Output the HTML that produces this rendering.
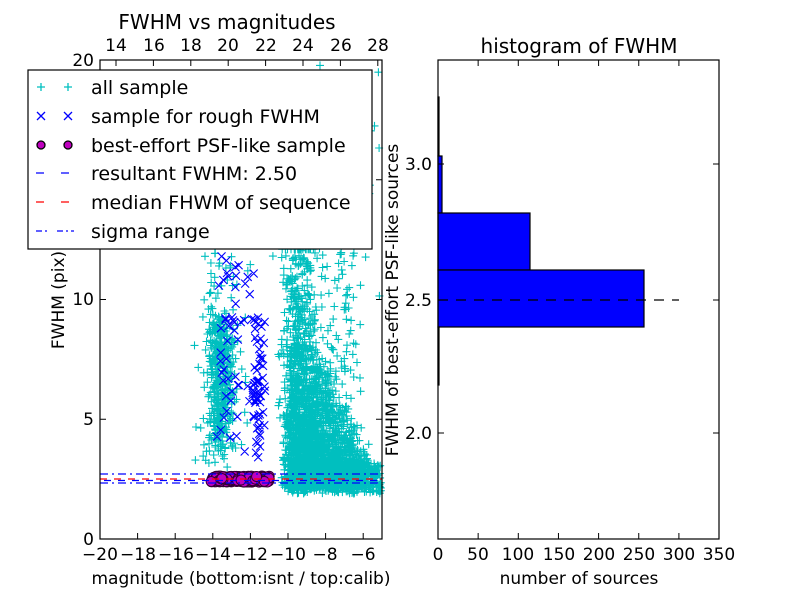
<!DOCTYPE html>
<html><head><meta charset="utf-8"><style>
body{margin:0;background:#fff;}
svg{display:block;font-family:"DejaVu Sans","Liberation Sans",sans-serif;}
</style></head><body>
<svg id="s" width="800" height="600" xmlns="http://www.w3.org/2000/svg">
<rect width="800" height="600" fill="#fff"/>
<g id="pts"></g>
<g stroke-width="1.3">
<line x1="100" y1="474" x2="382" y2="474" stroke="#0000ff" stroke-dasharray="8,4,2,4"/>
<line x1="100" y1="483" x2="382" y2="483" stroke="#0000ff" stroke-dasharray="8,4,2,4"/>
<line x1="100" y1="479" x2="382" y2="479" stroke="#ff0000" stroke-dasharray="7,7"/>
<line x1="104" y1="480.5" x2="382" y2="480.5" stroke="#0000ff" stroke-dasharray="7,7"/>
</g>
<rect x="100" y="60" width="282" height="479" fill="none" stroke="#000" stroke-width="1.2"/>
<g id="lt" stroke="#000" stroke-width="1"></g>
<g font-size="17" text-anchor="middle" fill="#000">
<text x="100" y="560">−20</text><text x="138" y="560">−18</text><text x="176" y="560">−16</text><text x="213" y="560">−14</text><text x="250" y="560">−12</text><text x="288" y="560">−10</text><text x="325" y="560">−8</text><text x="363" y="560">−6</text>
<text x="116" y="51">14</text><text x="154" y="51">16</text><text x="191" y="51">18</text><text x="228" y="51">20</text><text x="266" y="51">22</text><text x="303" y="51">24</text><text x="341" y="51">26</text><text x="378" y="51">28</text>
</g>
<g font-size="17" text-anchor="end">
<text x="94" y="545">0</text><text x="94" y="425">5</text><text x="94" y="305">10</text><text x="94" y="185">15</text><text x="94" y="66">20</text>
</g>
<text x="241" y="584" font-size="17" text-anchor="middle">magnitude (bottom:isnt / top:calib)</text>
<text x="227" y="29" font-size="20" text-anchor="middle">FWHM vs magnitudes</text>
<text transform="translate(64,300) rotate(-90)" font-size="17" text-anchor="middle">FWHM (pix)</text>
<rect x="28" y="70" width="344" height="179" fill="#fff" stroke="#000" stroke-width="1.2"/>
<g font-size="19">
<text x="91" y="94">all sample</text>
<text x="91" y="123">sample for rough FWHM</text>
<text x="91" y="152">best-effort PSF-like sample</text>
<text x="91" y="180">resultant FWHM: 2.50</text>
<text x="91" y="209">median FHWM of sequence</text>
<text x="91" y="238">sigma range</text>
</g>
<g stroke-width="1.3">
<path d="M37 87h8M41 83v8M64 87h8M68 83v8" stroke="#00bfbf"/>
<path d="M37 112l8 8M45 112l-8 8M64 112l8 8M72 112l-8 8" stroke="#0000ff"/>
<circle cx="41" cy="145" r="4" fill="#bf00bf" stroke="#000"/><circle cx="68" cy="145" r="4" fill="#bf00bf" stroke="#000"/>
<line x1="36" y1="173" x2="74" y2="173" stroke="#0000ff" stroke-dasharray="8,17"/>
<line x1="36" y1="202" x2="74" y2="202" stroke="#ff0000" stroke-dasharray="8,17"/>
<line x1="36" y1="231" x2="74" y2="231" stroke="#0000ff" stroke-dasharray="6,3,2,3,0,7,6,3,2,3"/>
</g>
<g stroke="#000" stroke-width="1.2">
<rect x="438" y="97" width="1" height="59" fill="#0000ff"/>
<rect x="438" y="156" width="4" height="57" fill="#0000ff"/>
<rect x="438" y="213" width="92" height="57" fill="#0000ff"/>
<rect x="438" y="270" width="206" height="57" fill="#0000ff"/>
<rect x="438" y="327" width="1" height="58" fill="#0000ff"/>
</g>
<line x1="438" y1="300" x2="679" y2="300" stroke="#000" stroke-width="1.2" stroke-dasharray="10,8"/>
<rect x="438" y="60" width="281" height="479" fill="none" stroke="#000" stroke-width="1.2"/>
<g id="rt" stroke="#000" stroke-width="1"></g>
<g font-size="17" text-anchor="middle">
<text x="438" y="560">0</text><text x="478" y="560">50</text><text x="518" y="560">100</text><text x="559" y="560">150</text><text x="599" y="560">200</text><text x="639" y="560">250</text><text x="679" y="560">300</text><text x="719" y="560">350</text>
</g>
<g font-size="17" text-anchor="end">
<text x="432" y="170">3.0</text><text x="432" y="306">2.5</text><text x="432" y="439">2.0</text>
</g>
<text x="579" y="584" font-size="17" text-anchor="middle">number of sources</text>
<text x="579" y="53" font-size="20" text-anchor="middle">histogram of FWHM</text>
<text transform="translate(398,300) rotate(-90)" font-size="17" text-anchor="middle">FWHM of best-effort PSF-like sources</text>
</svg>
<script>
var NS="http://www.w3.org/2000/svg";
function el(p,t,a){var e=document.createElementNS(NS,t);for(var k in a)e.setAttribute(k,a[k]);p.appendChild(e);return e;}
var seed=11;function r(){seed=(seed*16807)%2147483647;return (seed-1)/2147483646;}
function g(){return (r()+r()+r()-1.5)*1.15;}
var P=document.getElementById('pts');
function X(m){return 100+(m+20)*18.8;} function Y(f){return 539-f*23.95;}
var d="";
function plus(m,f){var x=X(m),y=Y(f);if(x<101||x>381||y<61||y>538)return;d+="M"+(x-4).toFixed(1)+" "+y.toFixed(1)+"h8M"+x.toFixed(1)+" "+(y-4).toFixed(1)+"v8";}
for(var i=0;i<420;i++){var f=3.3+r()*r()*4+r()*5;plus(-13.6+g()*0.6,f);}
for(var i=0;i<60;i++){plus(-15+r()*3,3+r()*9);}
for(var i=0;i<2600;i++){var f=2.1+Math.min(10,-Math.log(r()+1e-6)*2.3);var w=Math.max(0.8,4.5-(f-2)*0.55);var m=-9.7+g()*0.5+Math.pow(r(),1.8)*w;plus(m,f);}
for(var i=0;i<400;i++){plus(-10+r()*5,1.9+r()*1.3);}
for(var i=0;i<150;i++){plus(-10.6+r()*4.5,5+r()*7);}
for(var i=0;i<60;i++){plus(-11+r()*6,9+r()*11);}
el(P,'path',{d:d,stroke:'#00bfbf','stroke-width':1.1,fill:'none'});
var dx="";
for(var i=0;i<110;i++){var m,f;if(r()<0.55){m=-11.6+g()*0.35;f=3.3+r()*6;}else{m=-13+g()*0.9;f=3.5+r()*8.5;}var x=X(m),y=Y(f);dx+="M"+(x-4)+" "+(y-4)+"l8 8M"+(x+4)+" "+(y-4)+"l-8 8";}
el(P,'path',{d:dx,stroke:'#0000ff','stroke-width':1.1,fill:'none'});
for(var i=0;i<300;i++){var m=-14.1+r()*3.1;var f=2.5+(r()-0.5)*0.25;el(P,'circle',{cx:X(m),cy:Y(f),r:5,fill:'#bf00bf',stroke:'#330033','stroke-width':1});}
var lt=document.getElementById('lt'),t="";
[-18,-16,-14,-12,-10,-8,-6].forEach(function(m){var x=X(m);t+="M"+x+" 539v-6";});
[14,16,18,20,22,24,26,28].forEach(function(c){var x=116+(c-14)*18.7;t+="M"+x+" 60v6";});
[0,5,10,15,20].forEach(function(f){var y=Y(f);t+="M100 "+y+"h6M382 "+y+"h-6";});
el(lt,'path',{d:t});
var rt=document.getElementById('rt');t="";
[50,100,150,200,250,300].forEach(function(v){var x=438+v*0.803;t+="M"+x+" 539v-6M"+x+" 60v6";});
[164,300,433].forEach(function(y){t+="M438 "+y+"h6M719 "+y+"h-6";});
el(rt,'path',{d:t});
</script>
</body></html>
